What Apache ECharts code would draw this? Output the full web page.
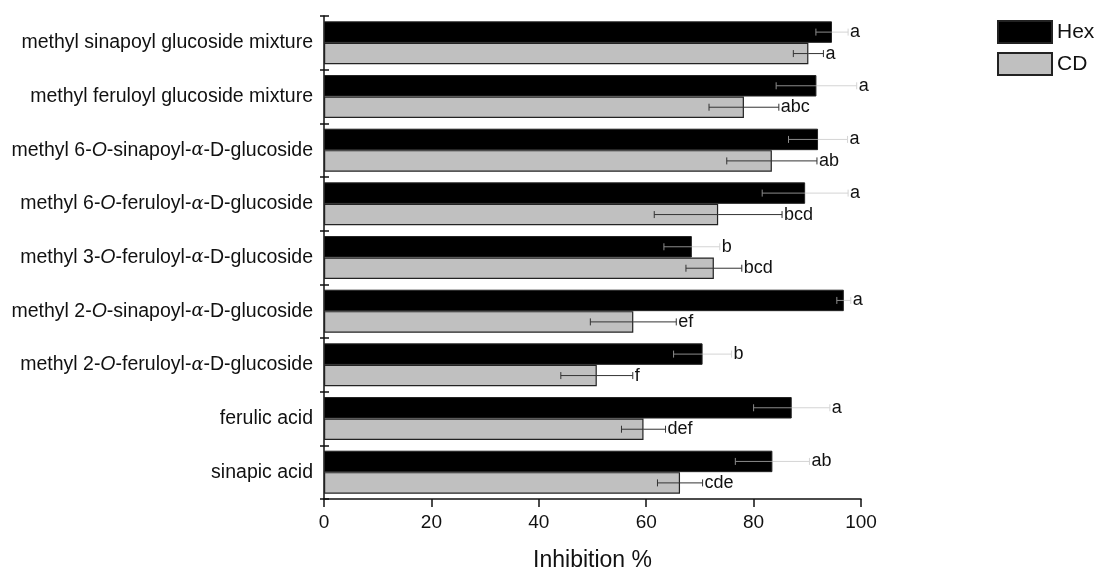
<!DOCTYPE html>
<html>
<head>
<meta charset="utf-8">
<script src="https://cdn.jsdelivr.net/npm/echarts@6/dist/echarts.min.js"></script>
<style>
html,body{margin:0;padding:0;background:#fff;}
#c{width:1104px;height:569px;}
</style>
</head>
<body>
<div id="c"></div>
<script>
const categories = [
  'methyl sinapoyl glucoside mixture',
  'methyl feruloyl glucoside mixture',
  'methyl 6-O-sinapoyl-α-D-glucoside',
  'methyl 6-O-feruloyl-α-D-glucoside',
  'methyl 3-O-feruloyl-α-D-glucoside',
  'methyl 2-O-sinapoyl-α-D-glucoside',
  'methyl 2-O-feruloyl-α-D-glucoside',
  'ferulic acid',
  'sinapic acid'
];
const hexValues = [94.6, 91.7, 92.0, 89.6, 68.5, 96.8, 70.5, 87.1, 83.5];
const hexErr = [3.0, 7.5, 5.5, 8.0, 5.2, 1.3, 5.4, 7.1, 6.9];
const hexLetters = ['a', 'a', 'a', 'a', 'b', 'a', 'b', 'a', 'ab'];
const cdValues = [90.2, 78.2, 83.4, 73.4, 72.6, 57.6, 50.8, 59.5, 66.3];
const cdErr = [2.8, 6.5, 8.4, 11.9, 5.2, 8.0, 6.7, 4.1, 4.2];
const cdLetters = ['a', 'abc', 'ab', 'bcd', 'bcd', 'ef', 'f', 'def', 'cde'];
const xTicks = [0, 20, 40, 60, 80, 100];

const FONT = 'Liberation Sans, Arial, sans-serif';
const chart = echarts.init(document.getElementById('c'), null, {renderer: 'canvas'});

function fmtLabel(s) {
  return s.replace(/-O-/g, '-{i|O}-').replace(/α/g, '{g|α}');
}

function errData(vals, errs, slot) {
  return vals.map((v, i) => [v, i, errs[i], slot]);
}

const letterSets = [hexLetters, cdLetters];

function renderErr(params, api) {
  const v = api.value(0), cat = api.value(1), e = api.value(2), slot = api.value(3);
  const letter = letterSets[slot][params.dataIndex];
  const c = api.coord([v, cat]);
  const band = api.size([0, 1])[1];
  const h = band * 0.8 / 2;
  const y = c[1] + (slot === 0 ? -h / 2 : h / 2);
  const lo = api.coord([v - e, cat])[0];
  const hi = api.coord([v + e, cat])[0];
  const x = c[0];
  const capH = 3.5;
  const inner = slot === 0 ? '#8c8c8c' : '#333';
  const outer = slot === 0 ? '#d4d4d4' : '#333';
  const children = [
    {type: 'line', shape: {x1: lo, y1: y, x2: x, y2: y}, style: {stroke: inner, lineWidth: 1}},
    {type: 'line', shape: {x1: x, y1: y, x2: hi, y2: y}, style: {stroke: outer, lineWidth: 1}},
    {type: 'line', shape: {x1: lo, y1: y - capH, x2: lo, y2: y + capH}, style: {stroke: inner, lineWidth: 1}},
    {type: 'line', shape: {x1: hi, y1: y - capH, x2: hi, y2: y + capH}, style: {stroke: outer, lineWidth: 1}},
    {type: 'text', x: hi + 2, y: y, style: {text: letter, fill: '#111', font: '18px ' + FONT, textAlign: 'left', textVerticalAlign: 'middle'}}
  ];
  return {type: 'group', children: children};
}

const option = {
  backgroundColor: '#fff',
  animation: false,
  textStyle: {fontFamily: FONT},
  grid: {left: 324, right: 243, top: 16, bottom: 70, containLabel: false, outerBoundsMode: 'none'},
  legend: {
    orient: 'vertical',
    left: 992, top: 15,
    itemWidth: 54, itemHeight: 22, itemGap: 8,
    icon: 'rect',
    data: ['Hex', 'CD'],
    textStyle: {fontSize: 21, color: '#111', fontFamily: FONT},
    selectedMode: false
  },
  xAxis: {
    type: 'value', min: 0, max: 100, interval: 20,
    name: 'Inhibition %', nameLocation: 'middle', nameGap: 50,
    nameTextStyle: {fontSize: 23, color: '#111', fontFamily: FONT},
    axisLine: {show: true, lineStyle: {color: '#111', width: 1.5}},
    axisTick: {show: true, length: 8, lineStyle: {color: '#111', width: 1.5}},
    axisLabel: {fontSize: 19, color: '#111', margin: 14, fontFamily: FONT,
      formatter: v => xTicks.includes(v) ? String(v) : ''},
    splitLine: {show: false}
  },
  yAxis: [{
    type: 'category', data: categories, inverse: true,
    axisLine: {show: true, lineStyle: {color: '#111', width: 1.5}},
    axisTick: {show: true, length: 4, lineStyle: {color: '#111', width: 1.5}},
    axisLabel: {
      fontSize: 19.5, color: '#111', margin: 11, fontFamily: FONT,
      formatter: fmtLabel,
      rich: {
        i: {fontSize: 19.5, fontStyle: 'italic', color: '#111', fontFamily: FONT},
        g: {fontSize: 18, fontStyle: 'italic', color: '#111', fontFamily: 'DejaVu Serif, serif'}
      }
    }
  }, {
    type: 'category', data: categories, inverse: true, position: 'left',
    axisLine: {show: false},
    axisTick: {show: true, inside: true, length: 5, lineStyle: {color: '#111', width: 1.5}},
    axisLabel: {show: false}
  }],
  series: [{
    name: 'Hex', type: 'bar', data: hexValues, yAxisIndex: 0,
    barCategoryGap: '20%', barGap: '0%',
    itemStyle: {color: '#000', borderColor: '#222', borderWidth: 1}
  }, {
    name: 'CD', type: 'bar', data: cdValues, yAxisIndex: 0,
    barCategoryGap: '20%', barGap: '0%',
    itemStyle: {color: '#c0c0c0', borderColor: '#222', borderWidth: 1.2}
  }, {
    type: 'custom', yAxisIndex: 0, renderItem: renderErr,
    data: errData(hexValues, hexErr, 0), z: 5
  }, {
    type: 'custom', yAxisIndex: 0, renderItem: renderErr,
    data: errData(cdValues, cdErr, 1), z: 5
  }]
};
chart.setOption(option);
</script>
</body>
</html>
